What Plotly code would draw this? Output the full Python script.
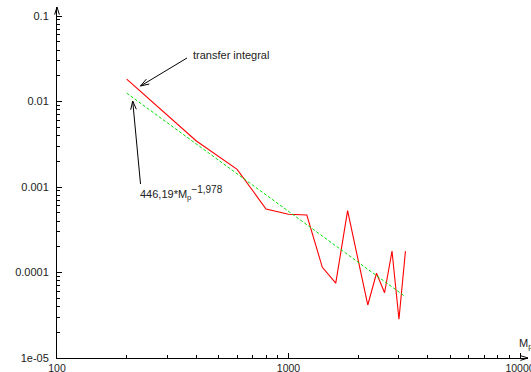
import math
import plotly.graph_objects as go

# Proton mass values and the computed transfer integral at each
mass = [200, 400, 600, 800, 1000, 1200, 1400, 1600, 1800, 2200, 2400, 2600, 2800, 3000, 3200]
transfer = [0.0183, 0.00345, 0.00161, 0.000553, 0.00048, 0.00047, 0.000115, 0.000075,
            0.000528, 0.0000417, 0.000098, 0.000058, 0.000178, 0.0000284, 0.000178]

# Power-law fit: 446,19 * Mp^-1,978
fit_coef = 446.19
fit_exp = -1.978
fit = [fit_coef * m ** fit_exp for m in mass]

x_tickvals = [100, 1000, 10000]
x_ticktext = ["100", "1000", "10000"]
y_tickvals = [1e-5, 1e-4, 1e-3, 1e-2, 1e-1]
y_ticktext = ["1e-05", "0.0001", "0.001", "0.01", "0.1"]
x_minor = [k * 10 ** d for d in (2, 3) for k in range(2, 10)]
y_minor = [k * 10.0 ** d for d in (-5, -4, -3, -2) for k in range(2, 10)]

W, H = 531, 372
L, R, T, B = 57, 3, 7, 14
PW, PH = W - L - R, H - T - B


def paper(px, py):
    return (px - L) / PW, (H - B - py) / PH


def arrow_shapes(x0, y0, x1, y1, head=9, spread=0.32):
    """Line from (x0,y0) to tip (x1,y1), pixel coords, with an open V head."""
    ang = math.atan2(y0 - y1, x0 - x1)
    a = (x1 + head * math.cos(ang + spread), y1 + head * math.sin(ang + spread))
    b = (x1 + head * math.cos(ang - spread), y1 + head * math.sin(ang - spread))
    p0, p1 = paper(x0, y0), paper(x1, y1)
    pa, pb = paper(*a), paper(*b)
    line = dict(type="line", xref="paper", yref="paper", x0=p0[0], y0=p0[1],
                x1=p1[0], y1=p1[1], line=dict(color="black", width=1))
    v = dict(type="path", xref="paper", yref="paper",
             path=f"M {pa[0]},{pa[1]} L {p1[0]},{p1[1]} L {pb[0]},{pb[1]}",
             line=dict(color="black", width=1))
    return [line, v]


fig = go.Figure()
fig.add_trace(go.Scatter(x=mass, y=transfer, mode="lines",
                         line=dict(color="#ff0000", width=1.1), showlegend=False))
fig.add_trace(go.Scatter(x=mass, y=fit, mode="lines",
                         line=dict(color="#00e000", width=1, dash="3px,2px"), showlegend=False))

font = dict(family="Liberation Sans, Arial, sans-serif", size=11, color="#222")

shapes = []
shapes += arrow_shapes(187, 58, 140.5, 86)
shapes += arrow_shapes(140.5, 184, 132.7, 101)
# axis arrowheads
shapes += arrow_shapes(520, H - B, W - R, H - B, head=8, spread=0.3)[1:]
shapes += arrow_shapes(L, 16, L, T, head=8, spread=0.3)[1:]

tx, ty = paper(191, 55)
fx, fy = paper(138, 193)
mx, my = paper(517, 344)

fig.update_layout(
    width=W, height=H,
    margin=dict(l=L, r=R, t=T, b=B, autoexpand=False),
    paper_bgcolor="white", plot_bgcolor="white",
    font=font,
    xaxis=dict(type="log", range=[2, 2 + (W - R - L) / 231.5], automargin=False,
               showline=True, linecolor="black", linewidth=1,
               showgrid=False, zeroline=False,
               tickmode="array", tickvals=x_tickvals, ticktext=x_ticktext,
               ticks="inside", ticklen=5, tickcolor="black", ticklabelstandoff=0,
               ticklabeloverflow="allow",
               minor=dict(tickvals=x_minor, ticks="inside", ticklen=3, tickcolor="black",
                          showgrid=False),
               tickfont=dict(family=font["family"], size=10.5, color=font["color"])),
    yaxis=dict(type="log", range=[-5, -1 + (16 - T) / 85.5], automargin=False,
               showline=True, linecolor="black", linewidth=1,
               showgrid=False, zeroline=False,
               tickmode="array", tickvals=y_tickvals, ticktext=y_ticktext,
               ticks="inside", ticklen=5, tickcolor="black", ticklabelstandoff=5,
               ticklabeloverflow="allow",
               minor=dict(tickvals=y_minor, ticks="inside", ticklen=3, tickcolor="black",
                          showgrid=False),
               tickfont=font),
    shapes=shapes,
    annotations=[
        dict(text="transfer integral", xref="paper", yref="paper", x=tx, y=ty,
             xanchor="left", yanchor="middle", showarrow=False, font=font),
        dict(text="446,19*M<sub>p</sub><sup><span style='font-size:10px'>−1,978</span></sup>",
             xref="paper", yref="paper",
             x=fx, y=fy, xanchor="left", yanchor="middle", showarrow=False, font=font),
        dict(text="M<sub>p</sub>", xref="paper", yref="paper", x=mx, y=my,
             xanchor="left", yanchor="middle", showarrow=False, font=font),
    ],
)

fig.write_html("out.html")
